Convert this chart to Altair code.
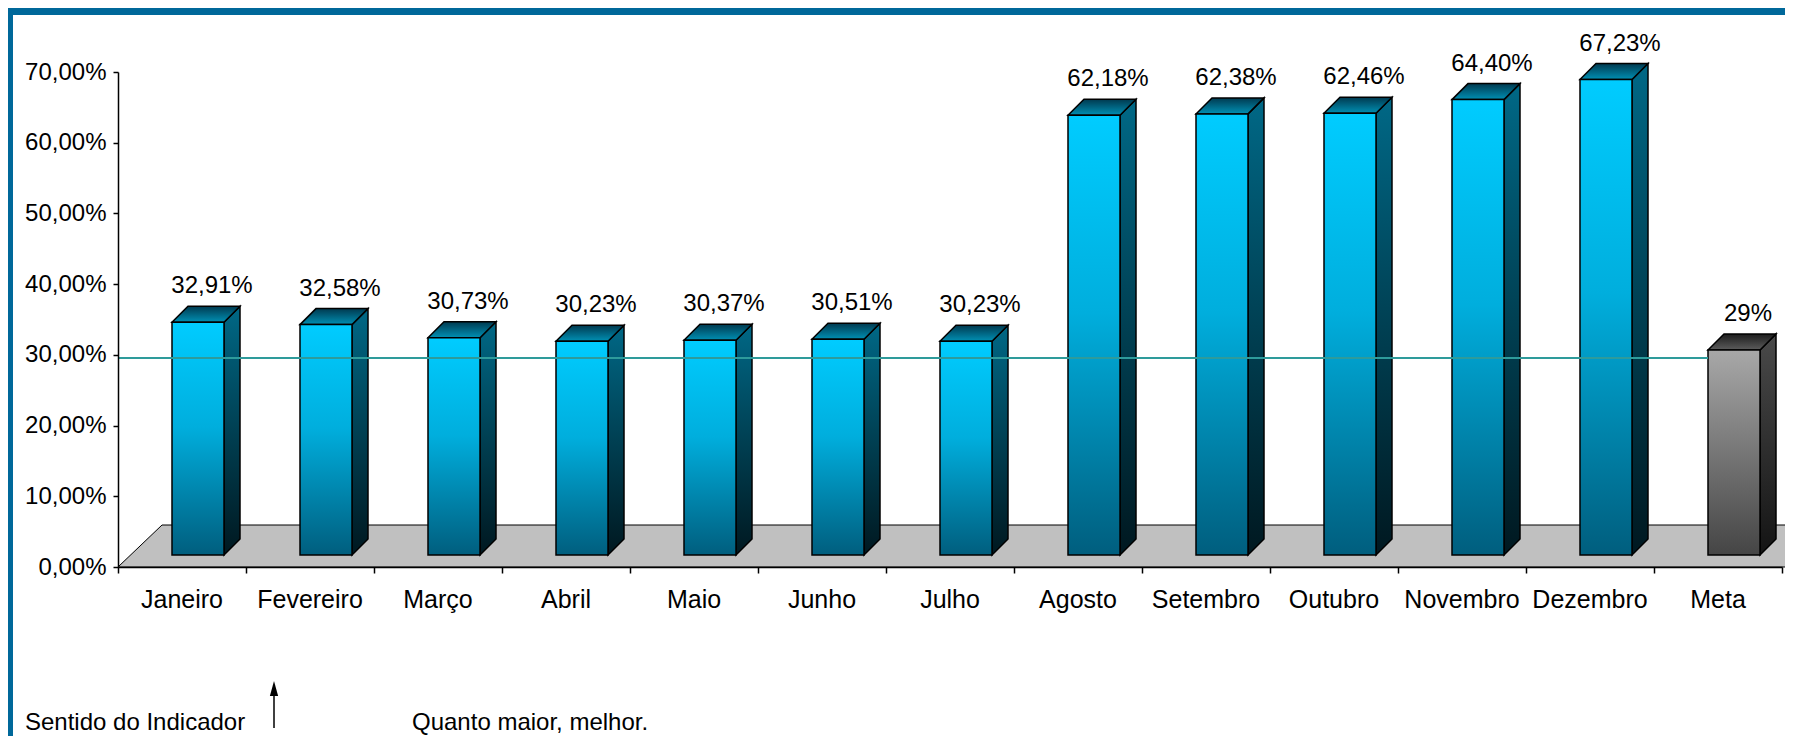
import altair as alt
import pandas as pd

# ---------------- data ----------------
MONTHS = ["Janeiro", "Fevereiro", "Março", "Abril", "Maio", "Junho", "Julho",
          "Agosto", "Setembro", "Outubro", "Novembro", "Dezembro"]
VALUES = [32.91, 32.58, 30.73, 30.23, 30.37, 30.51, 30.23,
          62.18, 62.38, 62.46, 64.40, 67.23]
META_LABEL = "Meta"
META_VALUE = 29
Y_TICKS = [0, 10, 20, 30, 40, 50, 60, 70]
NOTE_LEFT = "Sentido do Indicador"
NOTE_RIGHT = "Quanto maior, melhor."

CATS = MONTHS + [META_LABEL]
N = len(CATS)
df = pd.DataFrame({
    "cat": CATS,
    "value": VALUES + [META_VALUE],
    "idx": list(range(N)),
    "kind": ["mes"] * len(MONTHS) + ["meta"],
})

# ---------------- geometry / style ----------------
PLOT_W, PLOT_H = 1664, 495
YMAX = 70
BAND = PLOT_W / N
PXU = PLOT_H / YMAX


def bx(px):
    return px / BAND


def by(px):
    return px / PXU


OFF = bx(54)      # front face left edge inside band
FW = bx(52)       # front face width
DX = bx(16)       # depth x
DY = by(16)       # depth y
BASE = by(12)     # bar base above axis
FLOOR_DX = bx(44)
FLOOR_DY = by(42)

FONT = "Liberation Sans, Arial, sans-serif"
FRAME = "#00689A"

xs = alt.Scale(domain=[0, N], nice=False, zero=False)
ys = alt.Scale(domain=[0, YMAX], nice=False, zero=True)

XAXIS = alt.Axis(
    values=list(range(N + 1)), labels=False, title=None, tickSize=6,
    domainColor="black", tickColor="black", domainWidth=1.5, tickWidth=1.5,
    grid=False, zindex=1)
YAXIS = alt.Axis(
    values=Y_TICKS, title=None, tickSize=5, labelPadding=7,
    labelExpr="replace(format(datum.value, '.2f'), '.', ',') + '%'",
    labelFont=FONT, labelFontSize=24, labelColor="black",
    domainColor="black", tickColor="black", domainWidth=1.5, tickWidth=1.5,
    grid=False, zindex=1)


def X(f):
    return alt.X(f, type="quantitative", scale=xs, axis=XAXIS)


def Y(f):
    return alt.Y(f, type="quantitative", scale=ys, axis=YAXIS, stack=None)


def grad(c0, c1, mid=None):
    stops = [alt.GradientStop(color=c0, offset=0)]
    if mid:
        stops.append(alt.GradientStop(color=mid, offset=0.45))
    stops.append(alt.GradientStop(color=c1, offset=1))
    return alt.Gradient(gradient="linear", stops=stops, x1=0, x2=0, y1=0, y2=1)


STYLE = {
    "mes": {"front": grad("#00CCFF", "#005E7E", "#00AEDD"),
            "side": grad("#006886", "#001820"),
            "top": grad("#003A50", "#0090B4")},
    "meta": {"front": grad("#A8A8A8", "#454545"),
             "side": grad("#4A4A4A", "#141414"),
             "top": grad("#1C1C1C", "#5C5C5C")},
}

base = alt.Chart(df).transform_calculate(
    L=f"datum.idx + {OFF}",
    R=f"datum.idx + {OFF + FW}",
    b0=f"{BASE}",
    t=f"datum.value + {BASE}",
)

# ---------------- frame ----------------
one = alt.Data(values=[{}])
frame_top = alt.Chart(one).mark_rect(color=FRAME).encode(
    x=alt.value(-110), x2=alt.value(PLOT_W + 10), y=alt.value(-64), y2=alt.value(-57))
frame_left = alt.Chart(one).mark_rect(color=FRAME).encode(
    x=alt.value(-110), x2=alt.value(-105), y=alt.value(-64), y2=alt.value(PLOT_H + 180))

# ---------------- floor (carries the axes) ----------------
floor = alt.Chart(df).transform_aggregate(n="count()").transform_calculate(
    k="[0, 1, 2, 3]").transform_flatten(["k"]).transform_calculate(
    fx=f"datum.k == 0 ? 0 : datum.k == 1 ? {FLOOR_DX} : datum.k == 2 ? datum.n + 0.05 : datum.n + 0.05 + {FLOOR_DX}",
    fy=f"datum.k == 3 ? {FLOOR_DY} : 0",
    fy2=f"datum.k == 0 ? 0 : {FLOOR_DY}",
).mark_area(color="#C0C0C0", stroke="black", strokeWidth=1).encode(
    x=X("fx"), y=Y("fy"), y2="fy2:Q")


def side(kind):
    return base.transform_filter(f"datum.kind == '{kind}'").transform_calculate(
        k="[0, 1]").transform_flatten(["k"]).transform_calculate(
        sx=f"datum.R + datum.k * {DX}",
        sy=f"datum.b0 + datum.k * {DY}",
        sy2=f"datum.t + datum.k * {DY}",
    ).mark_area(fill=STYLE[kind]["side"], stroke="black", strokeWidth=1.5).encode(
        x=X("sx"), y=Y("sy"), y2="sy2:Q", detail="cat:N")


def top(kind):
    return base.transform_filter(f"datum.kind == '{kind}'").transform_calculate(
        k="[0, 1, 2, 3]").transform_flatten(["k"]).transform_calculate(
        tx=f"datum.L + (datum.k == 0 ? 0 : datum.k == 1 ? {DX} : datum.k == 2 ? {FW} : {FW + DX})",
        ty=f"datum.t + (datum.k == 3 ? {DY} : 0)",
        ty2=f"datum.t + (datum.k == 0 ? 0 : {DY})",
    ).mark_area(fill=STYLE[kind]["top"], stroke="black", strokeWidth=1.5).encode(
        x=X("tx"), y=Y("ty"), y2="ty2:Q", detail="cat:N")


def front(kind):
    return base.transform_filter(f"datum.kind == '{kind}'").mark_rect(
        fill=STYLE[kind]["front"], stroke="black", strokeWidth=1.5).encode(
        x=X("L"), x2="R:Q", y=Y("t"), y2="b0:Q")


bars = []
for kd in ["mes", "meta"]:
    bars += [side(kd), top(kd), front(kd)]

rule = base.transform_filter("datum.kind == 'meta'").transform_calculate(
    z="0").mark_rule(color="#2E9B9B", strokeWidth=2, yOffset=-4).encode(
    x=X("z"), x2="L:Q", y=Y("value"))

value_labels = base.transform_calculate(
    lx=f"datum.L + {FW / 2 + bx(14)}",
    txt="datum.kind == 'meta' ? format(datum.value, 'd') + '%' : replace(format(datum.value, '.2f'), '.', ',') + '%'",
).mark_text(dy=-29, baseline="alphabetic", font=FONT, fontSize=24, color="black").encode(
    x=X("lx"), y=Y("t"), text="txt:N")

cat_labels = base.transform_calculate(cx="datum.idx + 0.5", z="0").mark_text(
    dy=41, baseline="alphabetic", font=FONT, fontSize=25, color="black").encode(
    x=X("cx"), y=Y("z"), text="cat:N")

note_left = alt.Chart(one).mark_text(
    text=NOTE_LEFT, align="left", baseline="alphabetic", font=FONT, fontSize=24, color="black"
).encode(x=alt.value(-93), y=alt.value(658))
note_right = alt.Chart(one).mark_text(
    text=NOTE_RIGHT, align="left", baseline="alphabetic", font=FONT, fontSize=24, color="black"
).encode(x=alt.value(294), y=alt.value(658))
arrow_shaft = alt.Chart(one).mark_rule(color="black", strokeWidth=1.5).encode(
    x=alt.value(156), y=alt.value(620), y2=alt.value(656))
arrow_head = alt.Chart(one).mark_point(
    shape="M0,-1L0.55,1L-0.55,1Z", filled=True, color="black", size=225, opacity=1
).encode(x=alt.value(156), y=alt.value(616.5))

chart = alt.layer(
    frame_top, frame_left, floor, *bars, rule, value_labels, cat_labels,
    note_left, note_right, arrow_shaft, arrow_head,
).properties(
    width=PLOT_W, height=PLOT_H,
    padding={"left": 110, "top": 64, "right": 3, "bottom": 169},
    autosize=alt.AutoSizeParams(type="none"),
    background="white",
).configure_view(stroke=None)

chart.save("out.html", embed_options={"renderer": "svg", "actions": False})
